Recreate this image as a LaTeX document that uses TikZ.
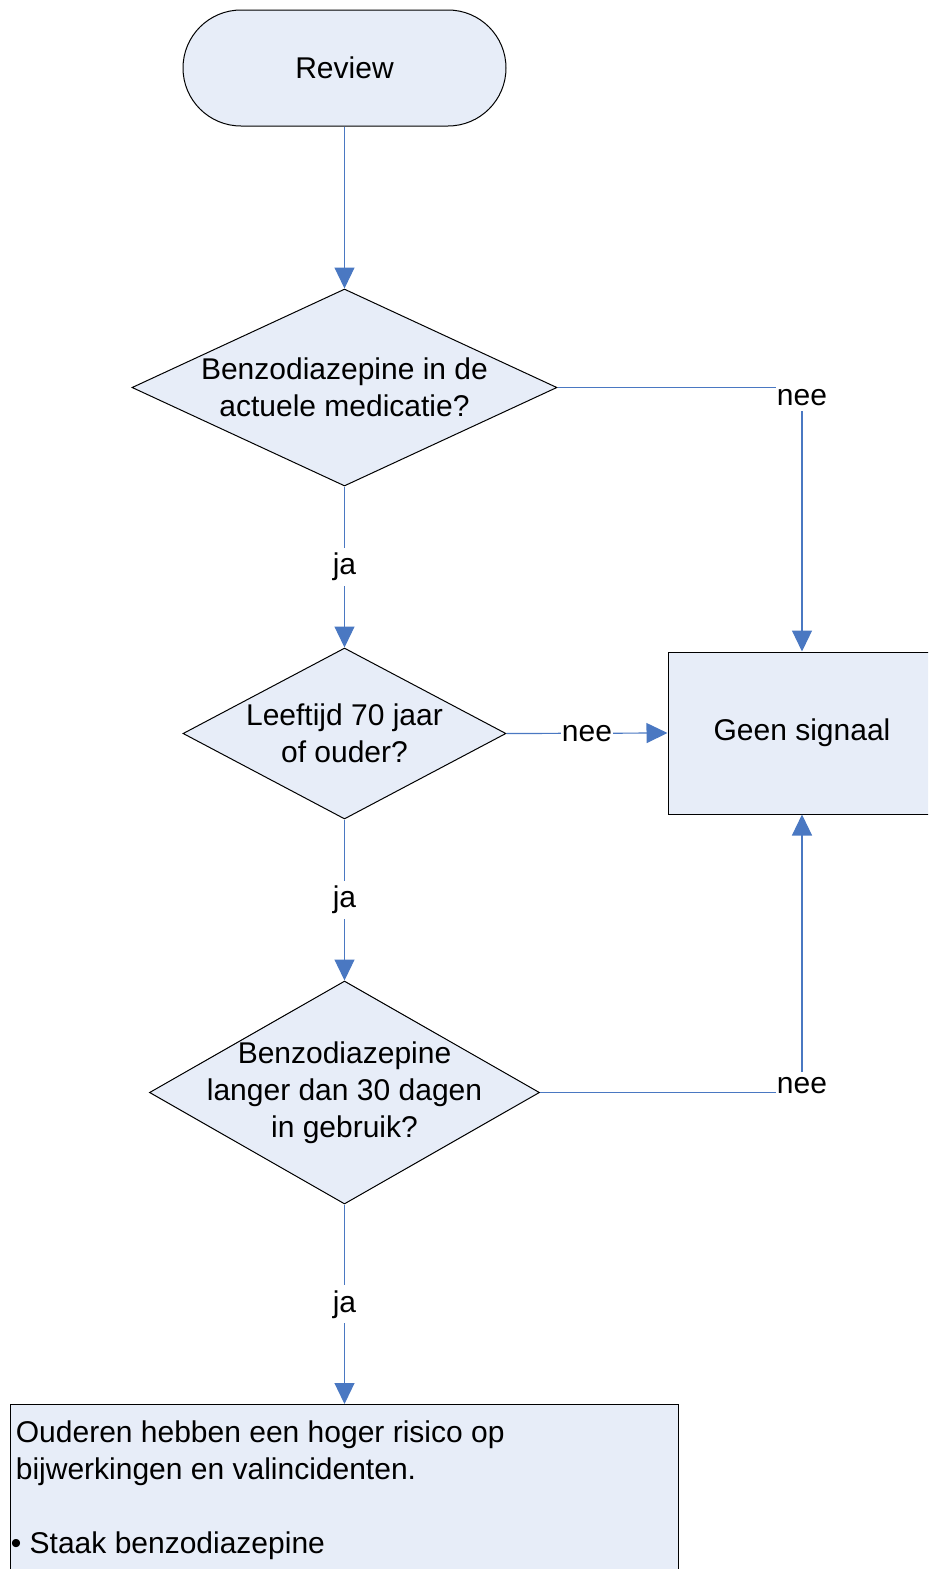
\documentclass[tikz,border=0pt]{standalone}
\usepackage{fontspec}
\setmainfont{Liberation Sans}
\usetikzlibrary{shapes.geometric, arrows.meta}
\definecolor{flowfill}{HTML}{E7EDF8}
\definecolor{flowline}{HTML}{4A78C2}

\begin{document}
\begin{tikzpicture}[x=0.5pt, y=-0.5pt,
        every node/.style={font=\fontsize{15}{18.5}\selectfont},
        terminal/.style={rectangle, rounded corners=29pt, draw=black, fill=flowfill, line width=0.5pt, minimum width=161.5pt, minimum height=58pt},
        decision/.style={diamond, draw=black, fill=flowfill, line width=0.5pt, inner sep=0pt},
        process/.style={rectangle, draw=black, fill=flowfill, line width=0.5pt},
        flow/.style={draw=flowline, line width=0.6pt, -{Triangle[length=10.5pt, width=10pt]}},
        answer/.style={fill=white, inner xsep=0.5pt, inner ysep=2.5pt}]
        \clip (0, 0) rectangle (928, 1569);

        \node[terminal] (review) at (344.5, 68) {Review};
        \node[decision, minimum width=212.5pt, minimum height=98.5pt, label={[anchor=center, align=center]center:Benzodiazepine in de\\actuele medicatie?}] (inmed) at (344.5, 387.5) {};
        \node[decision, minimum width=161.5pt, minimum height=85.5pt, label={[anchor=center, align=center]center:Leeftijd 70 jaar\\of ouder?}] (age) at (344.5, 733.5) {};
        \node[decision, minimum width=195pt, minimum height=111.5pt, label={[anchor=center, align=center]center:Benzodiazepine\\langer dan 30 dagen\\in gebruik?}] (duration) at (344.5, 1092.5) {};

        \node[process, minimum width=134pt, minimum height=81pt] (geen) at (802, 733) {Geen signaal};
        \node[process, anchor=north west, minimum width=334pt, minimum height=100pt, label={[anchor=north west, align=left, inner xsep=2.75pt, inner ysep=8pt]north west:Ouderen hebben een hoger risico op\\bijwerkingen en valincidenten.\\[18.5pt]\hspace*{-2.5pt}\textbullet\ Staak benzodiazepine}] (advice) at (10, 1404) {};

        % ja-takken
        \draw[flow] (review.south) -- (inmed.north);
        \draw[flow] (inmed.south) -- node[answer] (ja1) {ja} (age.north);
        \draw[flow] (age.south) -- node[answer] (ja2) {ja} (duration.north);
        \draw[flow] (duration.south) -- node[answer] (ja3) {ja} (advice.north);

        % nee-takken
        \draw[flow] (inmed.east) -| node[answer, pos=0.5, yshift=-5.25pt] (nee1) {nee} (geen.north);
        \draw[flow] (age.east) -- node[answer] (nee2) {nee} (geen.west);
        \draw[flow] (duration.east) -| node[answer, pos=0.5, yshift=3.5pt] (nee3) {nee} (geen.south);
\end{tikzpicture}
\end{document}
